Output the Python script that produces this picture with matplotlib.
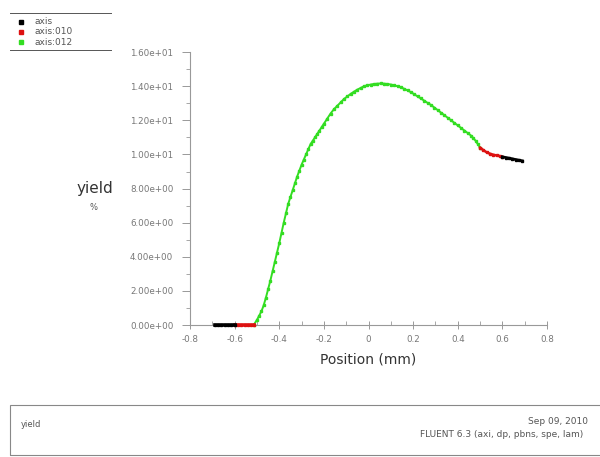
import matplotlib
matplotlib.use('Agg')
import matplotlib.pyplot as plt
from matplotlib.ticker import MultipleLocator, FuncFormatter
from matplotlib.patches import Rectangle
from matplotlib.lines import Line2D

# axis (black) - two pieces, left wall and right end
axis_x_left = [-0.69, -0.675, -0.66, -0.645, -0.63, -0.615, -0.60]
axis_y_left = [0.0, 0.0, 0.0, 0.0, 0.0, 0.0, 0.0]
axis_x_right = [0.60, 0.615, 0.63, 0.645, 0.66, 0.675, 0.69]
axis_y_right = [9.86, 9.82, 9.78, 9.74, 9.70, 9.66, 9.62]

# axis:010 (red)
a010_x_left = [-0.60, -0.585, -0.57, -0.555, -0.54, -0.525, -0.515]
a010_y_left = [0.0, 0.0, 0.0, 0.0, 0.0, 0.0, 0.0]
a010_x_right = [0.50, 0.515, 0.53, 0.545, 0.56, 0.575, 0.59, 0.60]
a010_y_right = [10.4, 10.25, 10.12, 10.04, 9.98, 9.94, 9.9, 9.86]

# axis:012 (green)
a012_x = [-0.515, -0.50, -0.49, -0.48, -0.47, -0.46, -0.45, -0.44, -0.43, -0.42,
          -0.41, -0.40, -0.39, -0.38, -0.37, -0.36, -0.35, -0.34, -0.33, -0.32,
          -0.31, -0.30, -0.29, -0.28, -0.27, -0.26, -0.25, -0.24, -0.23, -0.22,
          -0.21, -0.20, -0.185, -0.17, -0.155, -0.14, -0.125, -0.11, -0.095, -0.08,
          -0.065, -0.05, -0.035, -0.02, -0.005, 0.01, 0.025, 0.04, 0.055, 0.07,
          0.085, 0.10, 0.115, 0.13, 0.145, 0.16, 0.175, 0.19, 0.205, 0.22,
          0.235, 0.25, 0.265, 0.28, 0.295, 0.31, 0.325, 0.34, 0.355, 0.37,
          0.385, 0.40, 0.415, 0.43, 0.445, 0.46, 0.47, 0.48, 0.49, 0.50]
a012_y = [0.0, 0.3, 0.55, 0.8, 1.15, 1.6, 2.1, 2.6, 3.15, 3.7,
          4.25, 4.8, 5.4, 6.0, 6.55, 7.1, 7.5, 7.9, 8.3, 8.7,
          9.05, 9.4, 9.7, 10.0, 10.3, 10.6, 10.8, 11.0, 11.2, 11.4,
          11.6, 11.8, 12.1, 12.4, 12.65, 12.85, 13.05, 13.25, 13.4, 13.55,
          13.68, 13.8, 13.9, 14.0, 14.05, 14.1, 14.13, 14.15, 14.16, 14.15,
          14.13, 14.1, 14.05, 14.0, 13.93, 13.85, 13.75, 13.65, 13.53, 13.4,
          13.28, 13.15, 13.02, 12.9, 12.75, 12.6, 12.45, 12.3, 12.15, 12.0,
          11.85, 11.7, 11.55, 11.4, 11.25, 11.1, 10.95, 10.8, 10.6, 10.4]

yticks = [0, 2, 4, 6, 8, 10, 12, 14, 16]
xticks = [-0.8, -0.6, -0.4, -0.2, 0, 0.2, 0.4, 0.6, 0.8]

grey = '#555555'
light = '#777777'

fig = plt.figure(figsize=(6, 4.57), dpi=100)
ax = fig.add_axes([0.3167, 0.2888, 0.595, 0.5972])

ms = 1.8
ax.plot(a012_x, a012_y, color='#33dd22', lw=1.4, marker='s', ms=ms, mec='#33dd22',
        clip_on=False, zorder=3)
ax.plot(a010_x_left, a010_y_left, color='#dd1111', lw=2.6, marker='s', ms=ms,
        clip_on=False, zorder=4)
ax.plot(a010_x_right, a010_y_right, color='#dd1111', lw=1.8, marker='s', ms=ms, zorder=4)
ax.plot(axis_x_left, axis_y_left, color='black', lw=2.6, marker='s', ms=ms,
        clip_on=False, zorder=4)
ax.plot(axis_x_right, axis_y_right, color='black', lw=2.0, marker='s', ms=ms, zorder=4)

ax.set_xlim(-0.8, 0.8)
ax.set_ylim(0, 16)
ax.set_xticks(xticks)
ax.set_yticks(yticks)
ax.xaxis.set_minor_locator(MultipleLocator(0.1))
ax.yaxis.set_minor_locator(MultipleLocator(1))
ax.xaxis.set_major_formatter(FuncFormatter(lambda v, p: '0' if abs(v) < 1e-9 else '%g' % v))
ax.yaxis.set_major_formatter(FuncFormatter(lambda v, p: '%.2e' % v))

for s in ['top', 'right']:
    ax.spines[s].set_visible(False)
for s in ['left', 'bottom']:
    ax.spines[s].set_color('#999999')
    ax.spines[s].set_linewidth(0.8)

ax.tick_params(axis='y', which='major', direction='out', length=6, width=0.7,
               color='#999999', labelsize=6.3, labelcolor=light, pad=6)
ax.tick_params(axis='y', which='minor', direction='out', length=3, width=0.6, color='#999999')
ax.tick_params(axis='x', which='major', direction='inout', length=6, width=0.7,
               color='#999999', labelsize=6.3, labelcolor=light, pad=4)
ax.tick_params(axis='x', which='minor', direction='in', length=3, width=0.6, color='#999999')

ax.set_xlabel('Position (mm)', fontsize=10, color='#333333', labelpad=6)
fig.text(0.158, 0.588, 'yield', fontsize=11, color='#333333', ha='center', va='center')
fig.text(0.155, 0.546, '%', fontsize=6, color='#555555', ha='center', va='center')

# legend in the top-left corner
fig.add_artist(Line2D([0.017, 0.185], [0.972, 0.972], color='#555555', lw=0.7))
fig.add_artist(Line2D([0.017, 0.185], [0.89, 0.89], color='#555555', lw=0.7))
leg_names = ['axis', 'axis:010', 'axis:012']
leg_cols = ['black', '#dd1111', '#33dd22']
for i, (nm, c) in enumerate(zip(leg_names, leg_cols)):
    yy = 0.952 - i * 0.022
    fig.add_artist(Line2D([0.035], [yy], marker='s', ms=2.2, color=c, lw=0))
    fig.text(0.058, yy, nm, fontsize=6.5, color=grey, va='center')

# footer box
fig.add_artist(Rectangle((0.017, 0.005), 0.985, 0.108, transform=fig.transFigure,
                         fill=False, ec='#888888', lw=0.8))
fig.text(0.035, 0.072, 'yield', fontsize=6, color=grey, va='center')
fig.text(0.98, 0.077, 'Sep 09, 2010', fontsize=6.5, color=grey, ha='right', va='center')
fig.text(0.972, 0.05, 'FLUENT 6.3 (axi, dp, pbns, spe, lam)', fontsize=6.5, color=grey,
         ha='right', va='center')

fig.savefig('out.png', dpi=100)
